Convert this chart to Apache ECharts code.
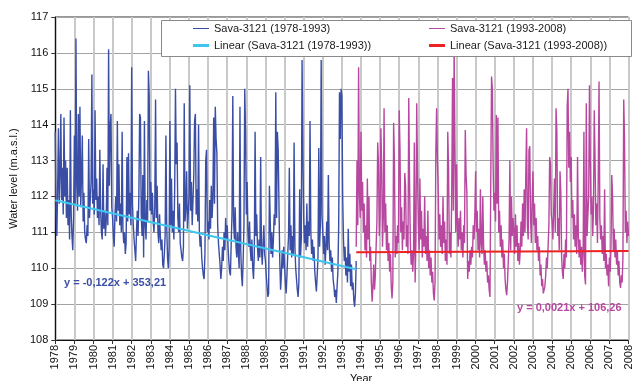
<!DOCTYPE html>
<html>
<head>
<meta charset="utf-8">
<script src="https://cdn.jsdelivr.net/npm/echarts@6/dist/echarts.min.js"></script>
<style>
  html, body { margin: 0; padding: 0; background: #fff; }
  #chart { width: 634px; height: 381px; }
</style>
</head>
<body>
<div id="chart"></div>
<script>
// Sava-3121 water levels (m a.s.l.), twice-monthly readings, one row per year.
// Period 1: 1978.0 to 1993.75
const levels1978to1993 = [
  [113.8,111.6,110.9,112.2,113.9,111.8,112.6,114.3,111.9,112.8,111.5,114.2,112.0,113.0,111.4,112.8,111.2,111.9,110.8,114.4,111.5,110.9,110.5,111.4], // 1978
  [113.7,111.8,116.4,112.3,111.6,114.3,112.0,114.5,111.7,112.6,113.7,111.3,112.1,111.0,110.8,110.7,111.2,110.9,113.6,111.4,111.9,112.4,115.4,111.8], // 1979
  [112.2,111.5,114.4,111.9,112.5,111.4,112.0,111.2,113.3,111.6,111.0,110.8,112.9,111.1,111.6,110.9,111.3,112.8,111.2,116.1,112.3,113.9,114.3,111.7], // 1980
  [111.4,110.9,110.6,111.5,112.0,111.3,114.1,111.6,112.9,111.2,111.8,111.0,113.8,111.1,110.7,111.0,110.4,110.7,113.1,111.3,113.2,111.5,112.1,111.2], // 1981
  [115.6,111.8,111.2,110.8,110.5,110.2,111.0,111.6,110.9,112.0,114.3,114.2,111.5,110.9,112.6,110.3,114.1,111.2,110.8,111.9,111.3,115.5,114.8,111.6], // 1982
  [112.4,111.5,112.1,111.3,111.0,111.7,114.7,111.4,112.3,111.0,110.7,111.5,110.9,110.5,110.8,110.1,110.0,110.4,110.9,113.7,111.2,110.3,110.0,110.6], // 1983
  [114.1,111.2,112.5,111.0,111.6,110.8,112.2,115.0,112.9,113.5,111.4,111.0,111.8,110.7,110.5,110.3,110.2,110.6,114.6,111.3,111.7,112.7,111.1,111.5], // 1984
  [112.0,115.1,111.6,112.4,111.2,111.9,112.6,114.1,114.3,111.5,112.2,111.3,114.0,111.0,110.6,110.9,110.3,110.0,109.8,109.7,110.4,113.0,113.3,111.0], // 1985
  [111.3,110.8,111.9,111.1,112.3,111.4,112.0,114.2,111.8,114.5,113.6,113.2,111.2,110.7,110.4,110.1,109.7,110.0,110.6,110.2,111.0,110.5,111.4,110.8], // 1986
  [111.2,110.6,110.2,109.9,109.8,110.7,111.5,114.8,111.3,110.8,111.7,110.6,110.3,111.0,110.4,110.0,114.5,110.5,109.8,109.5,110.2,111.2,115.0,113.8], // 1987
  [111.5,112.4,111.0,110.6,111.3,110.5,110.2,110.8,110.0,109.7,110.4,113.8,110.9,111.5,110.6,110.2,110.8,110.3,113.1,110.5,110.1,110.7,111.2,110.4], // 1988
  [110.2,109.8,109.5,109.2,109.3,112.3,112.3,110.4,111.0,110.3,110.8,111.5,111.2,114.9,111.4,113.8,113.3,113.3,110.2,109.4,109.8,110.5,110.0,110.6], // 1989
  [110.1,109.6,109.3,109.8,110.4,110.9,112.8,110.5,111.2,110.3,110.9,110.4,113.5,110.6,110.0,109.7,109.4,109.2,109.6,112.2,110.3,110.8,115.8,113.2], // 1990
  [111.4,110.7,111.2,110.5,111.8,110.6,111.3,110.9,114.1,111.0,110.4,110.8,110.2,110.6,109.9,109.6,109.35,109.8,110.3,113.35,110.6,111.2,115.8,111.5], // 1991
  [111.0,110.4,110.9,110.1,110.6,111.3,110.5,112.6,110.7,110.2,110.5,109.9,110.3,109.7,109.5,109.2,109.4,109.03,109.5,109.9,111.2,114.9,113.6,115.0], // 1992
  [114.8,112.0,110.8,110.2,110.6,109.8,110.3,109.6,111.1,109.9,110.4,109.5,110.1,109.4,109.6,109.1,108.93,109.3,110.2] // 1993 (to October)
];
const start1978 = 1978;

// Period 2: 1993.75 to 2008.0
const levels1993to2008 = [
  [110.6,113.0,111.2,115.6,112.1,111.4], // 1993 (from October)
  [113.8,111.6,112.4,111.0,111.8,110.5,111.2,110.3,112.5,110.8,112.0,110.2,110.6,109.6,109.07,109.5,110.1,109.4,109.8,110.6,111.3,113.5,112.9,110.9], // 1994
  [111.5,113.9,112.8,110.6,111.4,114.46,111.0,111.8,110.5,111.2,110.2,110.7,109.9,110.4,109.5,109.16,109.6,114.05,113.0,110.3,110.9,110.4,111.2,110.7], // 1995
  [114.4,113.3,111.0,111.7,110.5,111.3,110.8,112.65,112.3,110.6,111.2,110.4,114.74,112.4,110.7,110.1,110.5,109.9,110.4,113.5,109.6,110.8,114.6,112.7], // 1996
  [111.2,110.5,112.5,110.8,111.6,110.3,111.1,110.6,112.0,110.4,110.9,110.2,111.6,110.0,110.5,109.8,110.3,109.6,109.9,109.3,109.1,109.6,113.2,114.46], // 1997
  [113.0,112.2,110.8,111.5,110.6,111.2,110.4,112.0,110.7,111.3,110.2,110.8,110.1,113.8,112.8,110.4,111.0,110.3,112.2,115.3,111.6,116.2,113.4,111.0], // 1998
  [112.9,111.2,110.6,111.4,110.8,111.6,110.5,111.0,110.3,111.2,110.7,113.85,112.6,112.1,109.7,110.2,109.9,110.5,110.1,110.6,110.3,111.2,110.8,111.5], // 1999
  [112.7,111.0,111.6,110.5,111.1,110.3,112.2,110.7,110.4,112.0,110.6,110.1,110.5,109.9,110.2,109.6,109.8,109.4,109.2,112.4,115.34,115.0,112.8,111.6], // 2000
  [112.1,111.3,114.27,111.8,114.2,111.0,111.6,110.6,111.2,110.3,110.8,110.0,110.4,109.7,109.4,109.25,109.6,110.2,110.8,113.0,110.5,112.0,110.9,111.4], // 2001
  [111.0,110.4,111.5,110.6,111.2,110.2,110.7,110.1,110.5,111.3,110.6,111.8,110.9,112.2,111.0,112.6,113.9,111.2,110.8,113.3,113.4,111.4,110.7,111.9], // 2002
  [112.7,111.2,111.8,110.7,111.4,110.5,110.9,110.2,110.6,109.8,110.1,109.5,109.7,109.3,109.26,109.5,109.8,110.3,110.0,110.6,111.2,113.1,112.9,111.5], // 2003
  [111.3,110.8,111.6,112.5,111.0,114.46,113.8,110.9,111.4,110.5,112.7,112.1,110.3,109.9,109.7,110.4,110.0,110.8,110.3,114.5,115.0,112.8,113.8,112.4], // 2004
  [113.1,111.4,111.9,110.8,111.5,110.6,111.2,110.4,113.1,110.9,110.3,110.8,110.1,110.6,109.9,110.4,113.8,109.8,109.55,114.6,110.9,111.5,112.0,115.1], // 2005
  [113.0,111.5,112.0,110.9,111.6,114.4,113.0,111.2,111.8,110.7,112.5,115.2,111.4,110.8,111.2,110.4,110.9,110.2,112.2,110.0,110.4,109.8,110.1,109.5], // 2006
  [110.3,109.9,110.6,112.6,112.0,110.5,111.1,110.3,110.8,110.1,110.5,109.8,110.2,109.6,109.45,109.8,109.6,110.3,114.7,113.6,111.0,111.6,110.7,111.3], // 2007
  [110.9] // 2008
];
const start1993 = 1993.75;
const readingsPerYear = 24;

// Linear trends: [slope, intercept, fromYear, toYear]
const trend1978to1993 = [-0.122, 353.21, 1978, 1993.75];
const trend1993to2008 = [0.0021, 106.26, 1993.75, 2008];

const seriesNames = ['Sava-3121 (1978-1993)', 'Sava-3121 (1993-2008)',
                     'Linear (Sava-3121 (1978-1993))', 'Linear (Sava-3121 (1993-2008))'];
const equationLabels = ['y = -0,122x + 353,21', 'y = 0,0021x + 106,26'];
const yTicks = { min: 108, max: 117, step: 1 };
const xTicks = { min: 1978, max: 2008, step: 1 };

function toPoints(rows, start) {
  const flat = rows.flat();
  return flat.map((v, i) => [start + i / readingsPerYear, v]);
}
function trendPoints(t) {
  return [[t[2], t[0] * t[2] + t[1]], [t[3], t[0] * t[3] + t[1]]];
}

const BLUE = '#3a4ea6', PINK = '#b8479f', CYAN = '#3dc6ee', RED = '#ee2222';
const FONT = 'Liberation Sans, Arial, sans-serif';

function legendItem(name, left, top, color, thick) {
  return {
    data: [{ name: name, icon: 'rect', itemStyle: { color: color } }],
    left: left, top: top, padding: 0, z: 100,
    itemWidth: 16, itemHeight: thick,
    textStyle: { fontFamily: FONT, fontSize: 11, color: '#1a1a1a' },
    selectedMode: false
  };
}

const chart = echarts.init(document.getElementById('chart'), null, { renderer: 'canvas' });
chart.setOption({
  animation: false,
  backgroundColor: '#ffffff',
  grid: { left: 52, right: 1, top: 17, bottom: 41, show: true, borderColor: '#333', borderWidth: 1 },
  legend: [
    legendItem(seriesNames[0], 193, 23, BLUE, 1),
    legendItem(seriesNames[2], 193, 40, CYAN, 3),
    legendItem(seriesNames[1], 429, 23, PINK, 1),
    legendItem(seriesNames[3], 429, 40, RED, 3)
  ],
  xAxis: {
    type: 'value', min: xTicks.min, max: xTicks.max, interval: xTicks.step,
    axisLine: { show: true, lineStyle: { color: '#111', width: 1 } },
    axisTick: { show: true, length: 4, lineStyle: { color: '#333' } },
    axisLabel: { rotate: 90, margin: 5, fontFamily: FONT, fontSize: 11, color: '#111',
                 formatter: v => String(v) },
    splitLine: { show: true, lineStyle: { color: '#c9c9c9', width: 2 } }
  },
  yAxis: {
    type: 'value', min: yTicks.min, max: yTicks.max, interval: yTicks.step,
    name: 'Water level (m.a.s.l.)', nameLocation: 'middle', nameGap: 36,
    nameTextStyle: { fontFamily: FONT, fontSize: 11, color: '#111' },
    axisLine: { show: true, lineStyle: { color: '#111', width: 1 } },
    axisTick: { show: true, length: 4, lineStyle: { color: '#333' } },
    axisLabel: { margin: 7, fontFamily: FONT, fontSize: 11, color: '#111' },
    splitLine: { show: true, lineStyle: { color: '#a3a3a3', width: 1 } }
  },
  graphic: [
    { type: 'rect', left: 161, top: 20, z: 50,
      shape: { width: 470, height: 36 },
      style: { fill: '#fff', stroke: '#8a8a8a', lineWidth: 1 } },
    { type: 'text', left: 64, top: 277, z: 60,
      style: { text: equationLabels[0], fill: BLUE, font: 'bold 11px ' + FONT } },
    { type: 'text', left: 517, top: 302, z: 60,
      style: { text: equationLabels[1], fill: PINK, font: 'bold 11px ' + FONT } },
    { type: 'text', left: 350, top: 373, z: 60,
      style: { text: 'Year', fill: '#111', font: '11px ' + FONT } }
  ],
  series: [
    { name: seriesNames[0], type: 'line', data: toPoints(levels1978to1993, start1978),
      showSymbol: false, sampling: null, z: 2,
      lineStyle: { color: BLUE, width: 1.4 }, itemStyle: { color: BLUE } },
    { name: seriesNames[1], type: 'line', data: toPoints(levels1993to2008, start1993),
      showSymbol: false, sampling: null, z: 2,
      lineStyle: { color: PINK, width: 1.4 }, itemStyle: { color: PINK } },
    { name: seriesNames[2], type: 'line', data: trendPoints(trend1978to1993),
      showSymbol: false, z: 5,
      lineStyle: { color: CYAN, width: 2 }, itemStyle: { color: CYAN } },
    { name: seriesNames[3], type: 'line', data: trendPoints(trend1993to2008),
      showSymbol: false, z: 5,
      lineStyle: { color: RED, width: 2 }, itemStyle: { color: RED } }
  ]
});
</script>
</body>
</html>
